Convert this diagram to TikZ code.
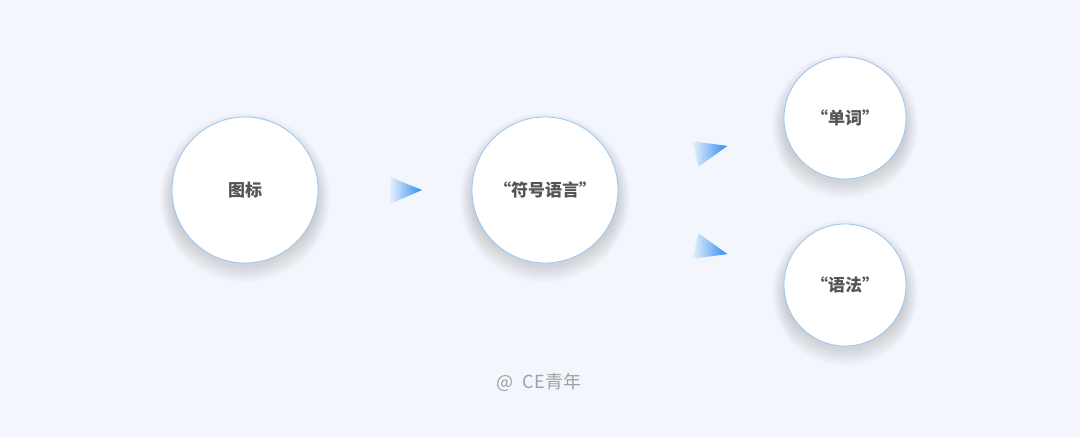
\documentclass[tikz,border=0pt]{standalone}
\usepackage{fontspec}
\setmainfont{Noto Sans CJK SC}
\definecolor{bg}{HTML}{F3F6FC}
\definecolor{ring}{HTML}{98C6F2}
\definecolor{txt}{HTML}{555555}
\definecolor{foot}{HTML}{A0A0A0}
\definecolor{arrowblue}{HTML}{2F8CF0}
\definecolor{shade}{HTML}{8090B0}
\tikzset{
  bubble/.style={circle, draw=ring, line width=0.8pt, fill=white, text=txt,
    font=\fontsize{17}{17}\selectfont\bfseries, inner sep=0pt},
  big/.style={bubble, minimum size=146pt},
  small/.style={bubble, minimum size=122pt},
  tri/.style={left color=arrowblue!6!bg, right color=arrowblue, draw=none},
}
\newcommand{\softshadow}[3]{%
  \foreach \k in {0,...,16}{%
    \fill[shade, opacity=0.006] (#1,#2+8) circle ({#3+\k-4});
  }%
}
\begin{document}
\begin{tikzpicture}[x=1pt,y=-1pt]
\fill[bg] (0,0) rectangle (1080,437);
\useasboundingbox (0,0) rectangle (1080,437);
\softshadow{245}{190}{73}
\softshadow{545}{190}{73}
\softshadow{845}{118}{61}
\softshadow{845}{285}{61}
\node[big] (icon) at (245,190) {图标};
\node[big] (sym) at (545,190) {“符号语言”};
\node[small] (word) at (845,118) {“单词”};
\node[small] (gram) at (845,285) {“语法”};
\shade[tri] (390,177) -- (422,190) -- (390,204) -- cycle;
\begin{scope}[shift={(711,150)}, rotate=14]
\shade[tri] (-16,-13) -- (17,0) -- (-16,13) -- cycle;
\end{scope}
\begin{scope}[shift={(711,250)}, rotate=-14]
\shade[tri] (-16,-13) -- (17,0) -- (-16,13) -- cycle;
\end{scope}
\node[text=foot, font=\fontsize{18}{18}\selectfont] (credit) at (539,382) {@\hspace{9pt}CE青年};
\end{tikzpicture}
\end{document}
